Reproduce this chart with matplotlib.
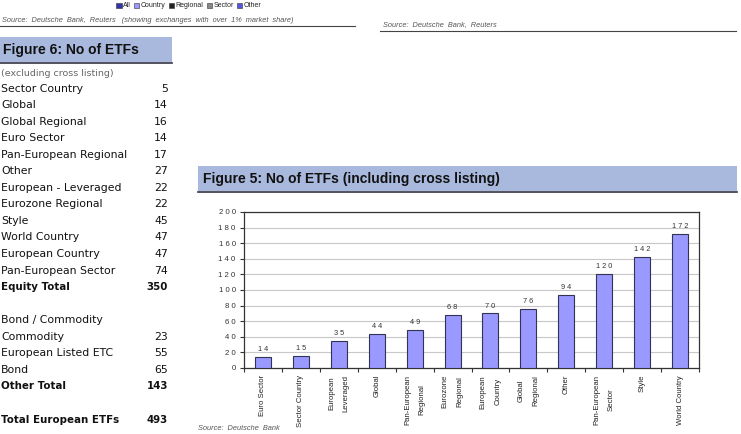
import numpy as np
import matplotlib.pyplot as plt
from matplotlib.patches import Rectangle

plt.rcParams['font.family'] = ['Liberation Sans', 'DejaVu Sans']

# Figure 5 data (including cross listing)
categories = ['Euro Sector', 'Sector Country', 'European\nLeveraged', 'Global',
              'Pan-European\nRegional', 'Eurozone\nRegional', 'European\nCountry',
              'Global\nRegional', 'Other', 'Pan-European\nSector', 'Style', 'World Country']
counts = [14, 15, 35, 44, 49, 68, 70, 76, 94, 120, 142, 172]
y_ticks = [0, 20, 40, 60, 80, 100, 120, 140, 160, 180, 200]

# Figure 6 table (excluding cross listing)
equity_names = ['Sector Country', 'Global', 'Global Regional', 'Euro Sector',
                'Pan-European Regional', 'Other', 'European - Leveraged',
                'Eurozone Regional', 'Style', 'World Country', 'European Country',
                'Pan-European Sector']
equity_counts = [5, 14, 16, 14, 17, 27, 22, 22, 45, 47, 47, 74]
other_names = ['Commodity', 'European Listed ETC', 'Bond']
other_counts = [23, 55, 65]

legend_names = ['All', 'Country', 'Regional', 'Sector', 'Other']
legend_colors = ['#3333aa', '#9999ff', '#222222', '#888888', '#5555dd']

W, H = 741, 434
fig = plt.figure(figsize=(W / 100, H / 100), dpi=100)
fig.patch.set_facecolor('white')

def fx(x):
    return x / W

def fy(y):
    return 1 - y / H

def spaced(s):
    return ' '.join(str(s))

# background layer for page elements
bg = fig.add_axes([0, 0, 1, 1])
bg.set_xlim(0, W)
bg.set_ylim(H, 0)
bg.axis('off')
renderer = fig.canvas.get_renderer()

# leftover legend from previous chart
lx = 116
for name, col in zip(legend_names, legend_colors):
    bg.add_patch(Rectangle((lx, 2.5), 5.5, 5.5, facecolor=col, edgecolor='#333333', lw=0.4))
    t = bg.text(lx + 7, 5.5, name, fontsize=5, va='center', ha='left', color='#222222')
    lx += 7 + t.get_window_extent(renderer).width + 3

bg.text(2, 21, 'Source:  Deutsche  Bank,  Reuters   (showing  exchanges  with  over  1%  market  share)',
        fontsize=5.3, style='italic', color='#555555', va='center')
bg.plot([0, 355], [26, 26], color='#444444', lw=0.8)
bg.text(383, 25, 'Source:  Deutsche  Bank,  Reuters', fontsize=5.3, style='italic',
        color='#555555', va='center')
bg.plot([380, 736], [31, 31], color='#444444', lw=0.8)

# Figure 6 header
bg.add_patch(Rectangle((0, 37), 172, 25, facecolor='#a9b8dd', edgecolor='none'))
bg.plot([0, 172], [62.5, 62.5], color='#333344', lw=1.2)
bg.text(3, 50, 'Figure 6: No of ETFs', fontsize=10, fontweight='bold', va='center',
        color='#111111')

row_h = 16.55
y0 = 73
tbl_font = ['DejaVu Sans']
bg.text(1, y0, '(excluding cross listing)', fontsize=6.8, color='#666666', va='center',
        family=tbl_font)
rows = [(n, str(v), False) for n, v in zip(equity_names, equity_counts)]
rows.append(('Equity Total', str(sum(equity_counts)), True))
rows.append(('', '', False))
rows.append(('Bond / Commodity', '', False))
rows += [(n, str(v), False) for n, v in zip(other_names, other_counts)]
rows.append(('Other Total', str(sum(other_counts)), True))
rows.append(('', '', False))
rows.append(('Total European ETFs', str(sum(equity_counts) + sum(other_counts)), True))
for i, (name, val, bold) in enumerate(rows):
    y = y0 + (i + 1) * row_h - 1
    w = 'bold' if bold else 'normal'
    fs = 7.4 if bold else 7.8
    bg.text(1, y, name, fontsize=fs, fontweight=w, va='center', color='#111111',
            family=tbl_font)
    bg.text(168, y, val, fontsize=fs, fontweight=w, va='center', ha='right',
            color='#111111', family=tbl_font)

# Figure 5 header
bg.add_patch(Rectangle((198, 166), 539, 25, facecolor='#a9b8dd', edgecolor='none'))
bg.plot([198, 737], [191.5, 191.5], color='#333344', lw=1.2)
bg.text(203, 178.5, 'Figure 5: No of ETFs (including cross listing)', fontsize=10,
        fontweight='bold', va='center', color='#111111')
bg.text(198, 428, 'Source:  Deutsche  Bank', fontsize=5.3, style='italic',
        color='#555555', va='center')

# bar chart
ax = fig.add_axes([fx(244), fy(368), fx(699 - 244), (368 - 212) / H])
x = np.arange(len(categories))
ax.bar(x, counts, width=0.42, color='#9999ff', edgecolor='#333355', linewidth=0.8, zorder=3)
for xi, v in zip(x, counts):
    ax.text(xi, v + 5, spaced(v), ha='center', va='bottom', fontsize=5.3, color='#333333')
ax.set_xlim(-0.5, len(categories) - 0.5)
ax.set_ylim(0, 200)
ax.set_yticks(y_ticks)
ax.set_yticklabels([spaced(v) for v in y_ticks], fontsize=5.6, color='#333333')
ax.yaxis.grid(True, color='#c8c8c8', lw=0.8, zorder=0)
ax.set_xticks(x)
ax.set_xticklabels(categories, rotation=90, fontsize=5.6, color='#222222',
                   linespacing=2.5)
ax.tick_params(axis='x', length=0, pad=5)
ax.set_xticks(np.arange(-0.5, len(categories), 1), minor=True)
ax.tick_params(axis='x', which='minor', length=3, width=0.8, color='#333333')
ax.tick_params(axis='y', length=3, width=0.8, color='#333333', pad=3)
for s in ax.spines.values():
    s.set_color('#333333')
    s.set_linewidth(0.9)

fig.savefig('out.png', dpi=100)
